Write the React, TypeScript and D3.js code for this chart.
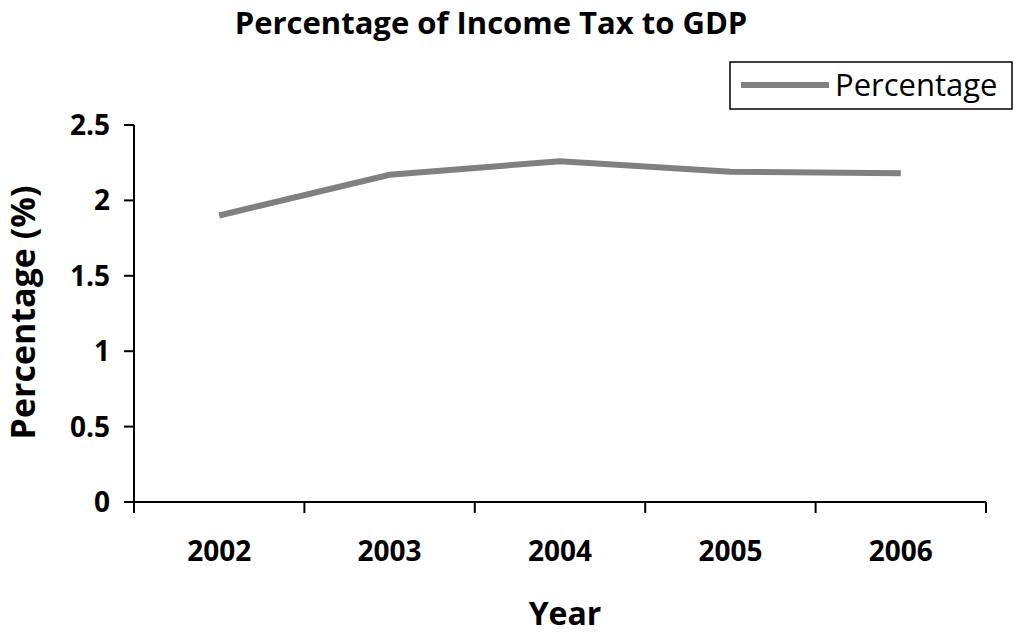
import React from "react";
import * as d3 from "d3";

const years = ["2002", "2003", "2004", "2005", "2006"];
const percentages = [1.9, 2.17, 2.26, 2.19, 2.18];
const yTicks = [0, 0.5, 1, 1.5, 2, 2.5];

const W = 1016;
const H = 636;
const left = 134;
const right = 986;
const top = 125;
const bottom = 502;
const font = "'Open Sans', 'Noto Sans', sans-serif";

export default function App() {
  const x = d3.scaleBand<string>().domain(years).range([left, right]);
  const y = d3.scaleLinear().domain([0, 2.5]).range([bottom, top]);
  const line = d3
    .line<number>()
    .x((_, i) => (x(years[i]) as number) + x.bandwidth() / 2)
    .y((d) => y(d));
  const edges = years.map((yr) => x(yr) as number).concat([right]);

  return (
    <svg
      width={W}
      height={H}
      style={{ position: "absolute", left: 0, top: 0, background: "#fff" }}
      fontFamily={font}
    >
      <text x={491} y={34} textAnchor="middle" fontSize={31} fontWeight="bold">
        Percentage of Income Tax to GDP
      </text>

      {/* legend */}
      <rect x={730} y={62} width={282} height={47} fill="#fff" stroke="#000" strokeWidth={1.5} />
      <line x1={741} x2={829} y1={85} y2={85} stroke="#808080" strokeWidth={6} />
      <text x={835} y={96} fontSize={31}>Percentage</text>

      {/* y axis */}
      <line x1={left} x2={left} y1={top} y2={bottom} stroke="#000" strokeWidth={2} />
      {yTicks.map((t) => (
        <g key={t}>
          <line x1={left - 10} x2={left} y1={y(t)} y2={y(t)} stroke="#000" strokeWidth={2} />
          <text x={110} y={y(t)} dy="0.36em" textAnchor="end" fontSize={28} fontWeight="bold">
            {t}
          </text>
        </g>
      ))}

      {/* x axis */}
      <line x1={left} x2={right} y1={bottom} y2={bottom} stroke="#000" strokeWidth={2} />
      {edges.map((e, i) => (
        <line key={i} x1={e} x2={e} y1={bottom} y2={bottom + 11} stroke="#000" strokeWidth={2} />
      ))}
      {years.map((yr) => (
        <text
          key={yr}
          x={(x(yr) as number) + x.bandwidth() / 2}
          y={561}
          textAnchor="middle"
          fontSize={28}
          fontWeight="bold"
        >
          {yr}
        </text>
      ))}

      <path d={line(percentages) || ""} fill="none" stroke="#808080" strokeWidth={6} />

      <text x={565} y={625} textAnchor="middle" fontSize={32} fontWeight="bold">
        Year
      </text>
      <text
        transform={`translate(35,${(183 + 442) / 2}) rotate(-90)`}
        textAnchor="middle"
        fontSize={34}
        fontWeight="bold"
      >
        Percentage (%)
      </text>
    </svg>
  );
}
